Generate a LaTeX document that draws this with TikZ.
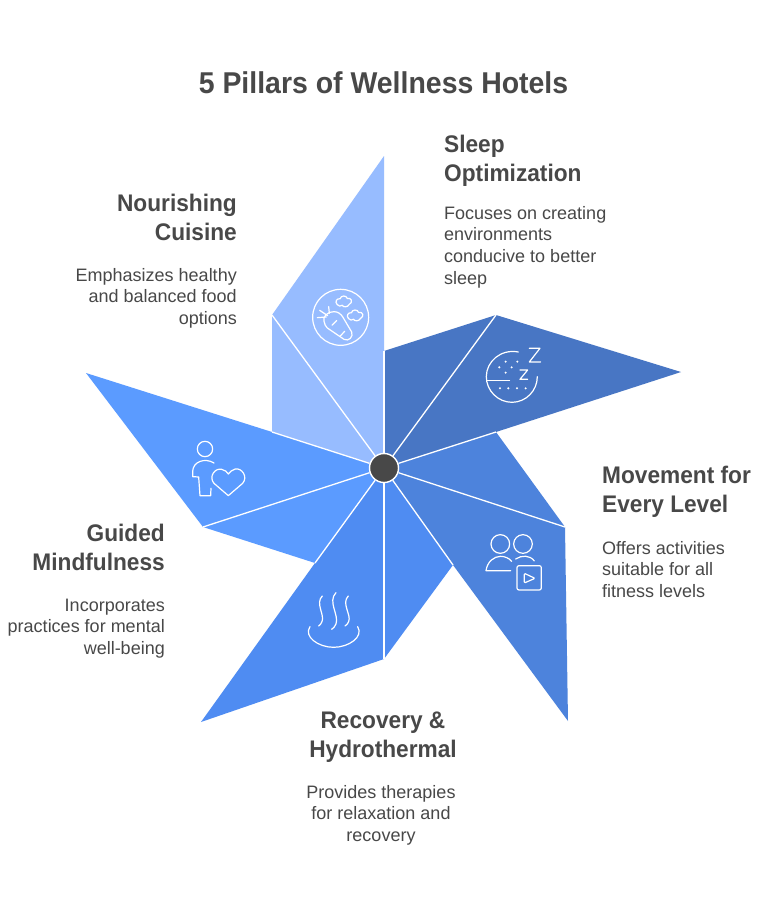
\documentclass[tikz,border=0pt]{standalone}
\usepackage{fontspec}
\setmainfont{Liberation Sans}
\newfontfamily\hfont{Liberation Sans}[FakeStretch=0.945]
\definecolor{cink}{HTML}{484848}
\definecolor{cnour}{HTML}{97BCFF}
\definecolor{csleep}{HTML}{4876C4}
\definecolor{cmove}{HTML}{4D83DC}
\definecolor{crecov}{HTML}{4F8CF2}
\definecolor{cguide}{HTML}{5B9BFF}
\newcommand\bh{\rule{0pt}{20pt}}
\tikzset{
  title/.style={font=\hfont\bfseries\fontsize{30.1}{34}\selectfont,text=cink,inner sep=0pt,anchor=base},
  head/.style={font=\hfont\bfseries\fontsize{24}{29}\selectfont,text=cink,inner sep=0pt},
  body/.style={font=\fontsize{18}{21.7}\selectfont,text=cink,inner sep=0pt},
  spoke/.style={draw=white,line width=1.3pt},
  ico/.style={draw=white,line width=1.2pt,line cap=round,line join=round,fill=none},
  dotw/.style={fill=white,draw=none},
  hub/.style={circle,fill=cink,draw=white,line width=1.4pt,minimum size=29pt,inner sep=0pt}
}
\begin{document}
\begin{tikzpicture}[x=1pt,y=-1pt]
\useasboundingbox (0,0) rectangle (768,908);
\fill[white] (0,0) rectangle (768,908);
\coordinate (c) at (384,468);
\coordinate (nTop) at (384,156);
\coordinate (nA) at (272,315);
\coordinate (nB) at (272,432);
\coordinate (sA) at (384,351);
\coordinate (sB) at (496,315);
\coordinate (sTip) at (681,372);
\coordinate (sC) at (496,432);
\coordinate (mA) at (565,527);
\coordinate (mTip) at (568,721);
\coordinate (mB) at (453,565);
\coordinate (rA) at (384,659);
\coordinate (rTip) at (201,722);
\coordinate (rB) at (315,563);
\coordinate (gA) at (203,527);
\coordinate (gTip) at (86,373);
% blades
\fill[cnour] (c) -- (nTop) -- (nA) -- (nB) -- cycle;
\fill[csleep] (c) -- (sA) -- (sB) -- (sTip) -- (sC) -- cycle;
\fill[cmove] (c) -- (sC) -- (mA) -- (mTip) -- (mB) -- cycle;
\fill[crecov] (c) -- (mB) -- (rA) -- (rTip) -- (rB) -- cycle;
\fill[cguide] (c) -- (rB) -- (gA) -- (gTip) -- (nB) -- cycle;
% hub and spokes
\node[hub] (hubn) at (c) {};
\foreach \p in {sA,sB,sC,mA,mB,rA,rB,gA,nB,nA}
  \draw[spoke] (hubn) -- (\p);
% title
\node[title] (ttl) at (383.5,93) {5 Pillars of Wellness Hotels};
% text blocks
\node[head,anchor=north west,align=left] (h1) at (444,132) {\bh Sleep\\Optimization};
\node[body,anchor=north west,align=left] (b1) at (444,199) {\bh Focuses on creating\\environments\\conducive to better\\sleep};
\node[head,anchor=north east,align=right] (h2) at (237,191) {\bh Nourishing\\Cuisine};
\node[body,anchor=north east,align=right] (b2) at (237,261) {\bh Emphasizes healthy\\and balanced food\\options};
\node[head,anchor=north west,align=left] (h3) at (602,463) {\bh Movement for\\Every Level};
\node[body,anchor=north west,align=left] (b3) at (602,534) {\bh Offers activities\\suitable for all\\fitness levels};
\node[head,anchor=north,align=center] (h4) at (383,708) {\bh Recovery \&\\Hydrothermal};
\node[body,anchor=north,align=center] (b4) at (381,778) {\bh Provides therapies\\for relaxation and\\recovery};
\node[head,anchor=north east,align=right] (h5) at (165,521) {\bh Guided\\Mindfulness};
\node[body,anchor=north east,align=right] (b5) at (165,591) {\bh Incorporates\\practices for mental\\well-being};
% carrot icon
\begin{scope}[shift={(260,150)},x=0.3333pt,y=-0.3333pt]
\draw[ico] (242,502) circle[radius=84];
\draw[ico] (192,514) .. controls (186,500) and (205,484) .. (222,485) .. controls (234,485) and (243,492) .. (249,502) -- (275,546) .. controls (281,560) and (266,576) .. (252,568) -- (202,534) .. controls (197,530) and (194,523) .. (192,514);
\draw[ico] (172,503) -- (199,501);
\draw[ico] (179,481) -- (203,497);
\draw[ico] (206,470) -- (208,490);
\draw[ico] (230,512) -- (216,526);
\draw[ico] (254,544) -- (240,559);
\begin{scope}[shift={(251,455)},x=0.36pt,y=-0.36pt]
\draw[ico] (-18,8) .. controls (-26,0) and (-18,-10) .. (-10,-8) .. controls (-8,-18) and (8,-18) .. (10,-9) .. controls (22,-12) and (27,2) .. (15,8) .. controls (12,16) and (-2,16) .. (-4,10) .. controls (-8,14) and (-14,13) .. (-18,8) -- cycle;
\end{scope}
\begin{scope}[shift={(285,497)},x=0.36pt,y=-0.36pt]
\draw[ico] (-18,8) .. controls (-26,0) and (-18,-10) .. (-10,-8) .. controls (-8,-18) and (8,-18) .. (10,-9) .. controls (22,-12) and (27,2) .. (15,8) .. controls (12,16) and (-2,16) .. (-4,10) .. controls (-8,14) and (-14,13) .. (-18,8) -- cycle;
\end{scope}
% sleep icon
\draw[ico] (775,606) .. controls (722,596) and (679,635) .. (679,680) .. controls (679,722) and (714,757) .. (756,757) .. controls (798,757) and (832,722) .. (832,680);
\draw[ico] (680,691) -- (749,691);
\foreach \q in {(720,715),(745,715),(771,715),(797,715),(737,635),(772,635),(718,652),(755,652),(737,668)}
  \fill[dotw] \q circle[radius=3.4];
\draw[ico] (808,595) -- (840,595) -- (808,636) -- (842,636);
\draw[ico] (780,660) -- (803,660) -- (780,688) -- (803,688);
\end{scope}
% people icon
\begin{scope}[shift={(370,420)},x=0.3333pt,y=-0.3333pt]
\draw[ico] (391,372) circle[radius=28];
\draw[ico] (459,372) circle[radius=28];
\draw[ico] (422,452) -- (348,452) .. controls (352,425) and (372,409) .. (392,409) .. controls (405,409) and (418,415) .. (425,424);
\draw[ico] (437,417) .. controls (455,405) and (480,405) .. (493,423);
\draw[ico,rounded corners=2pt] (441,437) rectangle (514,510);
\draw[ico,rounded corners=1pt] (463,460) -- (495,475) -- (463,489) -- cycle;
\end{scope}
% person and heart icon
\begin{scope}[shift={(80,370)},x=0.3333pt,y=-0.3333pt]
\draw[ico] (375,237) circle[radius=23];
\draw[ico] (402,279) .. controls (375,262) and (338,275) .. (338,305) -- (338,320) -- (356,321) -- (360,377) -- (392,377) -- (393,355);
\draw[ico] (445,377) -- (402,340) .. controls (385,320) and (405,293) .. (425,298) .. controls (435,300) and (442,306) .. (445,312) .. controls (449,306) and (456,300) .. (466,297) .. controls (485,293) and (505,320) .. (488,340) -- cycle;
% steam icon
\draw[ico] (727,678) .. controls (705,700) and (735,735) .. (726,755) .. controls (724,761) and (720,765) .. (716,768);
\draw[ico] (768,668) .. controls (742,695) and (778,735) .. (768,762) .. controls (765,770) and (760,775) .. (755,778);
\draw[ico] (805,678) .. controls (783,700) and (815,735) .. (806,755) .. controls (804,761) and (800,765) .. (795,768);
\draw[ico] (690,770) .. controls (670,800) and (715,832) .. (761,832) .. controls (807,832) and (852,800) .. (833,770);
\end{scope}
\end{tikzpicture}
\end{document}
